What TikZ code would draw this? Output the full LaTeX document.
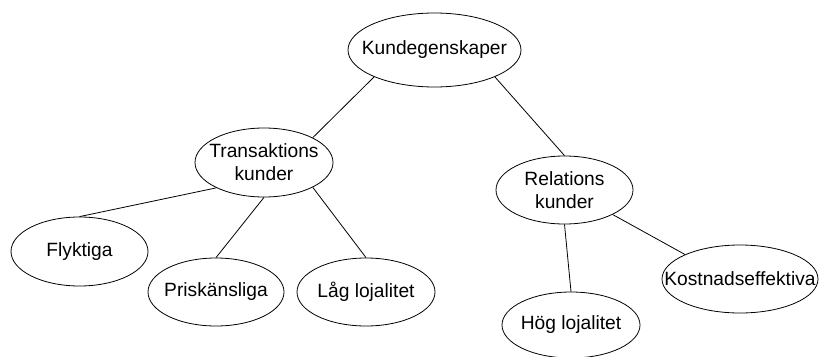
\documentclass[tikz,border=0pt]{standalone}
\usepackage{fontspec}
\setmainfont{Liberation Sans}
\usetikzlibrary{shapes.geometric}

\tikzset{
    bubble/.style 2 args={draw, ellipse, line width=0.8pt, minimum width=#1, minimum height=#2, inner sep=0pt},
    twig/.style={line width=0.8pt}
}

\begin{document}
\begin{tikzpicture}[x=1pt, y=-1pt, font=\fontsize{19.2}{23}\selectfont]
    \useasboundingbox (0,0) rectangle (819,356);

    % Top level
    \node[bubble={173pt}{74pt}, label=center:Kundegenskaper] (kund) at (434.5,50) {};

    % The two customer groups
    \node[bubble={138pt}{69pt}, label={[align=center]center:Transaktions\\kunder}] (trans) at (264,162.5) {};
    \node[bubble={137pt}{68pt}, label={[align=center]center:Relations\\kunder}] (rel) at (564.5,190) {};

    % Traits of each group
    \node[bubble={137pt}{69pt}, label=center:Flyktiga] (flykt) at (79.5,251.5) {};
    \node[bubble={136pt}{68pt}, label=center:Priskänsliga] (pris) at (216,292) {};
    \node[bubble={138pt}{68pt}, label=center:Låg lojalitet] (lag) at (366,292) {};
    \node[bubble={138pt}{66pt}, label=center:Hög lojalitet] (hog) at (571,325) {};
    \node[bubble={156pt}{68pt}, label=center:Kostnadseffektiva] (kost) at (740,279) {};

    % Connectors
    \draw[twig] (kund.204) -- (trans.27);
    \draw[twig] (kund.336) -- (rel.north);
    \foreach \src/\dst in {trans.208/flykt.north, trans.south/pris.north, trans.333/lag.north,
                           rel.south/hog.north, rel.333/kost.156} {
        \draw[twig] (\src) -- (\dst);
    }
\end{tikzpicture}
\end{document}
